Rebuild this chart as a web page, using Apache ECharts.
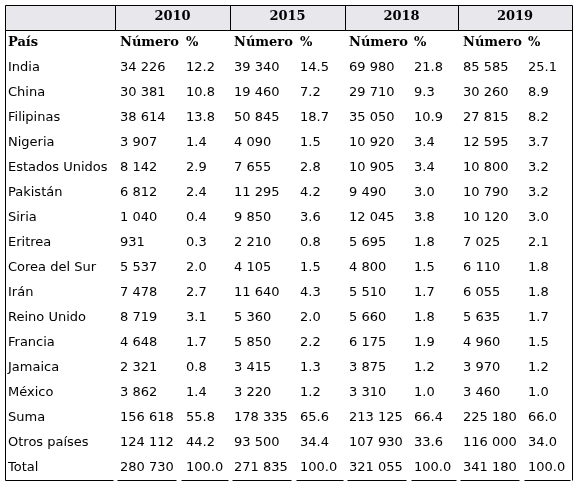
<!DOCTYPE html><html><head><meta charset="utf-8">
<script src="https://cdn.jsdelivr.net/npm/echarts@6/dist/echarts.min.js"></script>
<style>html,body{margin:0;padding:0;background:#fff}#c{width:577px;height:485px}</style></head><body><div id="c"></div>
<script>
const years = ['2010','2015','2018','2019'];
const subHeaders = ['Número','%'];
const countries = ['India','China','Filipinas','Nigeria','Estados Unidos','Pakistán','Siria','Eritrea','Corea del Sur','Irán','Reino Unido','Francia','Jamaica','México','Suma','Otros países','Total'];
const num2010 = ['34 226','30 381','38 614','3 907','8 142','6 812','1 040','931','5 537','7 478','8 719','4 648','2 321','3 862','156 618','124 112','280 730'];
const pct2010 = ['12.2','10.8','13.8','1.4','2.9','2.4','0.4','0.3','2.0','2.7','3.1','1.7','0.8','1.4','55.8','44.2','100.0'];
const num2015 = ['39 340','19 460','50 845','4 090','7 655','11 295','9 850','2 210','4 105','11 640','5 360','5 850','3 415','3 220','178 335','93 500','271 835'];
const pct2015 = ['14.5','7.2','18.7','1.5','2.8','4.2','3.6','0.8','1.5','4.3','2.0','2.2','1.3','1.2','65.6','34.4','100.0'];
const num2018 = ['69 980','29 710','35 050','10 920','10 905','9 490','12 045','5 695','4 800','5 510','5 660','6 175','3 875','3 310','213 125','107 930','321 055'];
const pct2018 = ['21.8','9.3','10.9','3.4','3.4','3.0','3.8','1.8','1.5','1.7','1.8','1.9','1.2','1.0','66.4','33.6','100.0'];
const num2019 = ['85 585','30 260','27 815','12 595','10 800','10 790','10 120','7 025','6 110','6 055','5 635','4 960','3 970','3 460','225 180','116 000','341 180'];
const pct2019 = ['25.1','8.9','8.2','3.7','3.2','3.2','3.0','2.1','1.8','1.8','1.7','1.5','1.2','1.0','66.0','34.0','100.0'];

const colX = [8,120,186,234,300,349,414,463,528];
const sepX = [5,115,230,345,458,572];
const cols = [countries,num2010,pct2010,num2015,pct2015,num2018,pct2018,num2019,pct2019];
const data = [];
cols.forEach((c,ci)=>c.forEach((t,ri)=>data.push([colX[ci], 68+25*ri, t, 0])));
data.push([colX[0],43,'País',1]);
for(let i=0;i<4;i++){data.push([colX[1+2*i],43,subHeaders[0],1]);data.push([colX[2+2*i],43,subHeaders[1],1]);}
years.forEach((y,i)=>data.push([(sepX[i+1]+sepX[i+2])/2,17,y,2]));

const chart = echarts.init(document.getElementById('c'),null,{renderer:'canvas'});
chart.setOption({
  animation:false,
  grid:{left:0,right:0,top:0,bottom:0},
  xAxis:{type:'value',min:0,max:577,show:false},
  yAxis:{type:'value',min:0,max:485,inverse:true,show:false},
  series:[{
    type:'custom',
    data:[[0]],
    renderItem:(p,api)=>{
      const c=(x,y)=>api.coord([x,y]);
      const a=c(5,5), b=c(572,30), bot=c(572,480);
      const kids=[{type:'rect',shape:{x:a[0],y:a[1],width:b[0]-a[0],height:b[1]-a[1]},style:{fill:'#e8e8ec'}}];
      const L=(x1,y1,x2,y2)=>{const p1=c(x1,y1),p2=c(x2,y2);kids.push({type:'line',shape:{x1:p1[0]+.5,y1:p1[1]+.5,x2:p2[0]+.5,y2:p2[1]+.5},style:{stroke:'#000',lineWidth:1}});};
      L(5,5,572,5); L(5,30,572,30); L(5,5,5,480); L(572,5,572,480);
      sepX.slice(1,5).forEach(x=>L(x,5,x,30));
      L(5,480,113,480);
      for(let i=0;i<4;i++){L(sepX[i+1]+2,480,sepX[i+1]+61,480);L(sepX[i+1]+66,480,sepX[i+2]-2,480);}
      return {type:'group',children:kids};
    },
    silent:true
  },{
    type:'custom',
    data:data,
    renderItem:(p,api)=>{
      const pt=api.coord([api.value(0),api.value(1)]);
      const k=api.value(3);
      const t=data[p.dataIndex][2];
      return {type:'text',x:pt[0],y:pt[1],style:{text:t,fill:'#000',
        font:(k>0?'bold ':'')+'13px '+(k>0?'"DejaVu Serif"':'"DejaVu Sans"'),
        align:k===2?'center':'left',verticalAlign:'middle'}};
    },
    silent:true
  }]
});
</script></body></html>
